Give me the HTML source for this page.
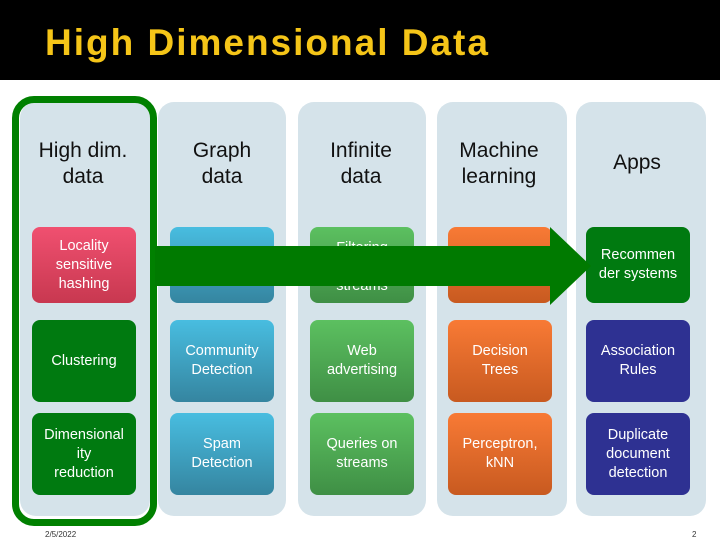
<!DOCTYPE html>
<html><head><style>
body{margin:0;width:720px;height:540px;background:#fff;position:relative;overflow:hidden;font-family:"Liberation Sans",sans-serif}
.hdr{position:absolute;left:0;top:0;width:720px;height:80px;background:#000}
.title{position:absolute;left:45px;top:22px;color:#f5c518;font-size:37px;font-weight:bold;letter-spacing:2px}
.col{position:absolute;top:102px;height:414px;background:#d5e3ea;border-radius:16px}
.h{position:absolute;width:130px;text-align:center;font-size:21px;color:#111;line-height:26px}
.b{position:absolute;width:104px;border-radius:8px;color:#fff;font-size:14.5px;text-align:center;display:flex;align-items:center;justify-content:center;line-height:19px}
.pk{background:linear-gradient(#f05070,#c83850)}
.gd{background:#007a10}
.bl{background:linear-gradient(#48bde0,#3585a0)}
.gl{background:linear-gradient(#5cc060,#3f8f45)}
.or{background:linear-gradient(#f87a35,#c85a20)}
.nv{background:#2e3192}
.outline{position:absolute;left:12px;top:96px;width:131px;height:416px;border:7px solid #008000;border-radius:22px}
.ft{position:absolute;top:530px;font-size:8px;color:#333}
</style></head><body>
<div class="hdr"></div><div class="title">High Dimensional Data</div>
<div class="col" style="left:20px;width:130px"></div>
<div class="col" style="left:158px;width:128px"></div>
<div class="col" style="left:298px;width:128px"></div>
<div class="col" style="left:437px;width:130px"></div>
<div class="col" style="left:576px;width:130px"></div>
<div class="outline"></div>
<div class="h" style="left:18px;top:138px">High dim.<br>data</div>
<div class="h" style="left:157px;top:138px">Graph<br>data</div>
<div class="h" style="left:296px;top:138px">Infinite<br>data</div>
<div class="h" style="left:434px;top:138px">Machine<br>learning</div>
<div class="h" style="left:572px;top:150px">Apps</div>

<div class="b pk" style="left:32px;top:227px;height:76px">Locality<br>sensitive<br>hashing</div>
<div class="b bl" style="left:170px;top:227px;height:76px"></div>
<div class="b gl" style="left:310px;top:227px;height:76px;align-items:flex-start;padding-top:0"><span style="margin-top:12px">Filtering<br><br>streams</span></div>
<div class="b or" style="left:448px;top:227px;height:76px"></div>
<div class="b gd" style="left:586px;top:227px;height:76px">Recommen<br>der systems</div>

<div class="b gd" style="left:32px;top:320px;height:82px">Clustering</div>
<div class="b bl" style="left:170px;top:320px;height:82px">Community<br>Detection</div>
<div class="b gl" style="left:310px;top:320px;height:82px">Web<br>advertising</div>
<div class="b or" style="left:448px;top:320px;height:82px">Decision<br>Trees</div>
<div class="b nv" style="left:586px;top:320px;height:82px">Association<br>Rules</div>

<div class="b gd" style="left:32px;top:413px;height:82px">Dimensional<br>ity<br>reduction</div>
<div class="b bl" style="left:170px;top:413px;height:82px">Spam<br>Detection</div>
<div class="b gl" style="left:310px;top:413px;height:82px">Queries on<br>streams</div>
<div class="b or" style="left:448px;top:413px;height:82px">Perceptron,<br>kNN</div>
<div class="b nv" style="left:586px;top:413px;height:82px">Duplicate<br>document<br>detection</div>

<svg style="position:absolute;left:0;top:0" width="720" height="540"><polygon points="155,246 550,246 550,227 591,266 550,305 550,286 155,286" fill="#007a00"/></svg>
<div class="ft" style="left:45px">2/5/2022</div>
<div class="ft" style="left:692px">2</div>
</body></html>
